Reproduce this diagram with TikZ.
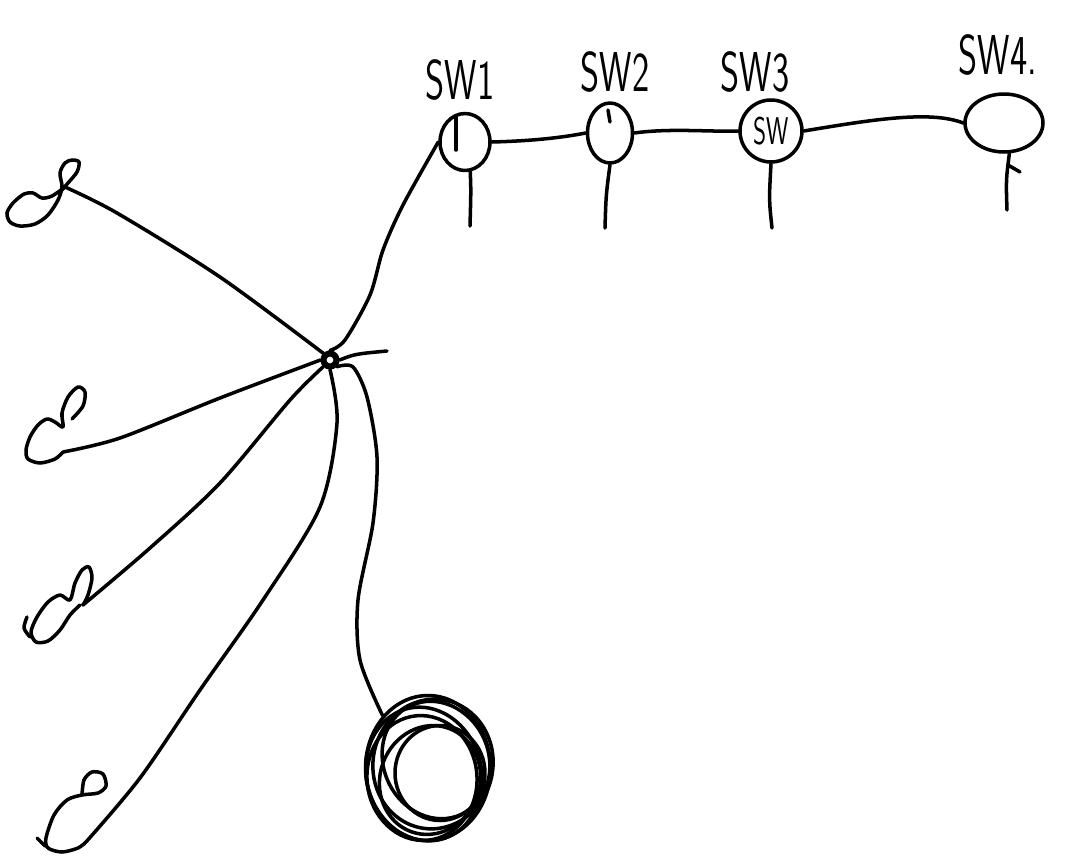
\documentclass[tikz,border=0pt]{standalone}
\usetikzlibrary{shapes.geometric}
\newcommand{\swtext}[1]{\scalebox{0.65}[1]{#1}}

\begin{document}
\begin{tikzpicture}[x=0.02cm,y=-0.02cm,line width=2pt,line cap=round,line join=round,
  switch/.style={ellipse,draw,inner sep=0pt},
  swname/.style={font=\sffamily\fontsize{32}{32}\selectfont},
  hub/.style={circle,draw,line width=3.5pt,minimum size=0.26cm,inner sep=0pt},
  coil/.style={ellipse,draw,minimum width=2.5cm,minimum height=2.9cm}]
  \useasboundingbox (0,0) rectangle (1066,856);

  % switches
  \node[switch,minimum width=1.0cm,minimum height=1.14cm] (sw1) at (465,142) {};
  \node[switch,minimum width=0.9cm,minimum height=1.2cm] (sw2) at (610,133) {};
  \node[switch,minimum width=1.24cm,minimum height=1.24cm,font=\sffamily\fontsize{22}{22}\selectfont] (sw3) at (771,131) {\swtext{SW}};
  \node[switch,minimum width=1.56cm,minimum height=1.16cm] (sw4) at (1004,123) {};

  \node[swname] (sw1 name) at (460,80) {\swtext{SW1}};
  \node[swname] (sw2 name) at (615,72) {\swtext{SW2}};
  \node[swname] (sw3 name) at (755,72) {\swtext{SW3}};
  \node[swname] (sw4 name) at (998,55) {\swtext{SW4.}};

  \draw (sw1) ++(-9,-25) -- ++(0,33);
  \draw (sw2) ++(-2,-23) -- ++(2,12);

  \draw (sw1.east) .. controls (530,141) and (560,138) .. (sw2.west);
  \draw (sw2.east) .. controls (670,128) and (710,132) .. (sw3.west);
  \draw (sw3.east) .. controls (870,120) and (930,110) .. (sw4.west);

  % stems
  \coordinate (sw1 foot) at (470,226);
  \coordinate (sw2 foot) at (605,228);
  \coordinate (sw3 foot) at (772,228);
  \coordinate (sw4 foot) at (1007,210);
  \coordinate (sw4 tick) at (1020,172);
  \draw (sw1.-80) .. controls (471,190) .. (sw1 foot);
  \draw (sw2.-90) .. controls (606,195) .. (sw2 foot);
  \draw (sw3.-90) .. controls (769,200) .. (sw3 foot);
  \draw (sw4.-80) .. controls (1006,180) .. (sw4 foot);
  \draw (1008,165) -- (sw4 tick);

  % hub
  \node[hub] (hub) at (330,360) {};
  \coordinate (stub) at (387,351);
  \draw (hub.east) .. controls (355,354) .. (stub);
  \draw plot[smooth] coordinates {(hub.north) (345,340) (370,295) (383,250) (403,205) (sw1.west)};

  % leaves
  \coordinate (leaf1) at (65,187);
  \coordinate (leaf2) at (63,452);
  \coordinate (leaf3) at (83,605);
  \coordinate (leaf4) at (86,842);

  \draw plot[smooth] coordinates {(62,190) (68,183) (77,172) (79,162) (72,160) (65,163) (60,173) (62,187)
    (58,200) (48,215) (35,224) (20,226) (10,222) (7,213) (13,203) (24,194) (33,193) (42,198) (52,196) (leaf1)};
  \draw plot[smooth] coordinates {(72,419) (83,406) (85,392) (78,387) (68,397) (62,413) (63,427)
    (55,422) (47,419) (38,425) (30,437) (26,450) (28,459) (40,463) (55,459) (leaf2)};
  \draw plot[smooth] coordinates {(leaf3) (88,595) (92,578) (89,567) (82,570) (75,583) (70,600)
    (60,595) (48,602) (37,617) (31,632) (36,642) (48,641) (60,630) (70,615) (80,605)};
  \draw plot[smooth] coordinates {(27,617) (24,628) (30,637)};
  \draw plot[smooth] coordinates {(82,795) (84,780) (92,772) (103,774) (106,786) (98,793) (82,795)
    (67,800) (54,815) (46,838) (48,848) (62,852) (78,848) (leaf4)};
  \draw (37,838) -- (45,846);

  \draw plot[smooth] coordinates {(leaf1) (117,213) (220,277) (hub.north west)};
  \draw plot[smooth] coordinates {(leaf2) (120,438) (220,398) (hub.west)};
  \draw plot[smooth] coordinates {(leaf3) (150,548) (220,483) (290,400) (hub.south west)};
  \draw plot[smooth] coordinates {(leaf4) (140,778) (200,690) (263,600) (320,507) (337,423) (hub.south)};

  % coil
  \node[coil] (coil) at (428,768) {};
  \foreach \dx/\dy/\rx/\ry/\rot in {-4/6/1.15/1.35/15, 5/-4/1.2/1.3/-10, -6/10/1.1/1.25/5,
      8/-8/1.05/1.2/25, 2/12/1.0/1.1/-20, 12/5/0.9/0.95/0}
    \draw (coil.center) ++(\dx,\dy) ellipse [x radius=\rx cm,y radius=\ry cm,rotate=\rot];
  \draw plot[smooth] coordinates {(hub.south east) (353,367) (367,397) (377,457) (373,523) (358,600) (360,660) (coil.north west)};
\end{tikzpicture}
\end{document}
